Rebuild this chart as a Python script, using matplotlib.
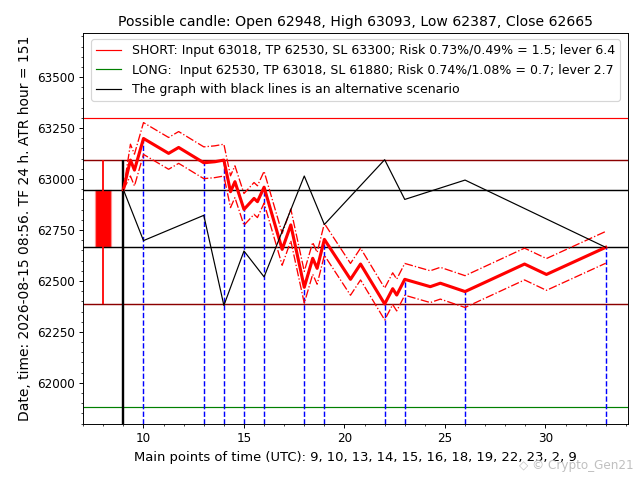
import matplotlib
matplotlib.use("Agg")
import matplotlib.pyplot as plt
from matplotlib.ticker import MultipleLocator

# candle
c_open, c_high, c_low, c_close = 62948, 63093, 62387, 62665
sl_short, sl_long = 63300, 61880

# main (short) scenario path
t_main = [9, 9.35, 9.55, 10, 11.25, 11.75, 13, 13.55, 14, 14.33, 14.55, 15, 15.5,
          15.67, 16, 16.9, 17.33, 18, 18.42, 18.64, 19, 20.3, 20.8, 22, 22.4,
          22.6, 23, 24.27, 24.77, 26, 28.96, 30.05, 33]
p_main = [62948, 63093, 63044, 63199, 63126, 63155, 63080, 63085, 63093, 62938,
          62987, 62851, 62905, 62889, 62960, 62655, 62775, 62469, 62611, 62562,
          62704, 62508, 62583, 62387, 62462, 62431, 62508, 62472, 62489, 62448,
          62583, 62532, 62665]
band = [0] + [78] * (len(p_main) - 1)

# alternative scenario
t_alt = [9, 10, 13, 14, 15, 16, 18, 19, 22, 23, 26, 33]
p_alt = [62948, 62698, 62822, 62380, 62647, 62520, 63015, 62777, 63095, 62900,
         62995, 62665]

# key hours
key_hours = [10, 13, 14, 15, 16, 18, 19, 22, 23, 26, 33]
key_tops = [63199, 63080, 63093, 62851, 62960, 62469, 62704, 62387, 62508, 62448, 62665]

ymin, ymax = 61799, 63716

fig = plt.figure(figsize=(640 / 86, 480 / 86), dpi=86)
ax = fig.add_axes([0.130, 0.117, 0.851, 0.814])

ax.axhline(sl_short, color='red', lw=1, label='SHORT: Input 63018, TP 62530, SL 63300; Risk 0.73%/0.49% = 1.5; lever 6.4')
ax.axhline(sl_long, color='green', lw=1, label='LONG:  Input 62530, TP 63018, SL 61880; Risk 0.74%/1.08% = 0.7; lever 2.7')
ax.axhline(c_high, color='darkred', lw=1.2)
ax.axhline(c_low, color='darkred', lw=1.2)
ax.axhline(c_open, color='black', lw=1.2)
ax.axhline(c_close, color='black', lw=1.2)

# candle
ax.vlines(8, c_low, c_high, color='red', lw=1.5)
ax.bar(8, c_open - c_close, bottom=c_close, width=0.8, color='red',
       edgecolor='#ff9090', lw=1)
ax.vlines(9, ymin, c_high, color='black', lw=2)

ax.vlines(key_hours, ymin, key_tops, color='blue', lw=1.2, linestyles='--')

up = [p + b for p, b in zip(p_main, band)]
lo = [p - b for p, b in zip(p_main, band)]
ax.plot(t_main, up, color='red', lw=1.1, ls='-.')
ax.plot(t_main, lo, color='red', lw=1.1, ls='-.')
ax.plot(t_main, p_main, color='red', lw=2.6)
ax.plot(t_alt, p_alt, color='black', lw=1,
        label='The graph with black lines is an alternative scenario')

ax.set_xlim(7.0, 34.1)
ax.set_ylim(ymin, ymax)
ax.xaxis.set_major_locator(MultipleLocator(5))
ax.xaxis.set_minor_locator(MultipleLocator(1))
ax.yaxis.set_major_locator(MultipleLocator(250))
ax.yaxis.set_minor_locator(MultipleLocator(50))

ax.set_title('Possible candle: Open 62948, High 63093, Low 62387, Close 62665', fontsize=11.7)
ax.set_xlabel('Main points of time (UTC): 9, 10, 13, 14, 15, 16, 18, 19, 22, 23, 2, 9',
              fontsize=11, labelpad=5)
ax.set_ylabel('Date, time: 2026-08-15 08:56. TF 24 h. ATR hour = 151', fontsize=11.6)
ax.legend(loc='upper center', fontsize=10.5)

fig.text(0.99, 0.03, '\u25c7 \u00a9 Crypto_Gen21', ha='right', va='center',
         color='#c0c0c0', fontsize=10)

fig.savefig('out.png', dpi=86)
